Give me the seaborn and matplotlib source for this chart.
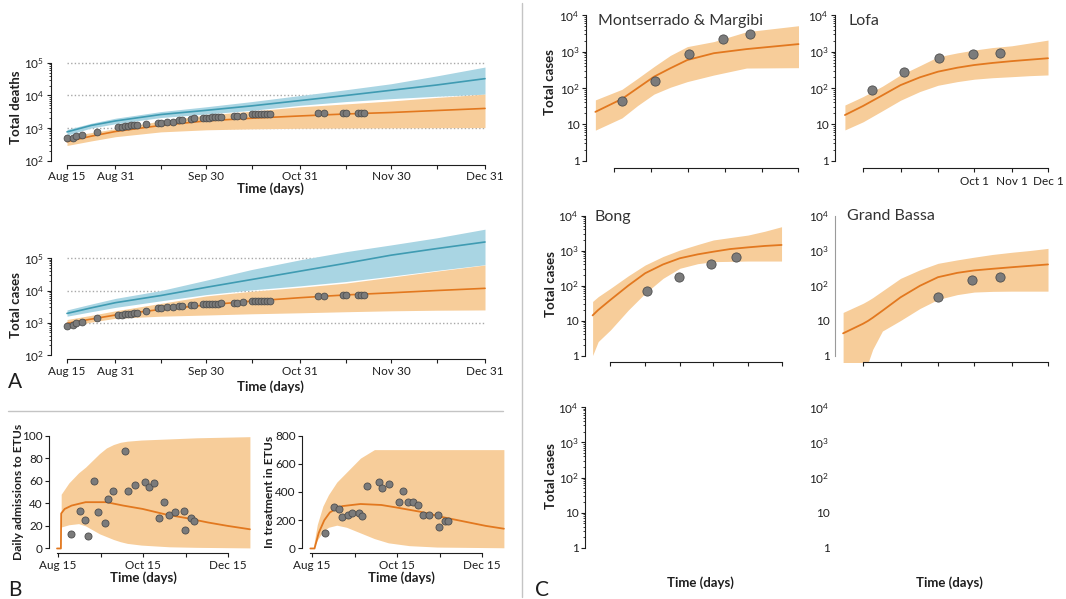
import numpy as np
import pandas as pd
import matplotlib
matplotlib.use("Agg")
import matplotlib.pyplot as plt
import matplotlib.dates as mdates
from matplotlib.lines import Line2D
import seaborn as sns

# ---------------------------------------------------------------- data
# Panel A : days after 15 Aug 2014
a_days = [0, 8, 16, 31, 46, 61, 77, 92, 107, 122, 138]
deaths_or_mid = [380, 560, 780, 1200, 1660, 2000, 2350, 2700, 3000, 3450, 4000]
deaths_or_hi = [560, 720, 950, 1650, 2500, 3300, 4500, 5500, 6800, 8700, 11000]
deaths_or_lo = [290, 400, 540, 760, 880, 940, 980, 1000, 1010, 1020, 1030]
deaths_bl_mid = [760, 1200, 1650, 2600, 3500, 4800, 7000, 10000, 14500, 21000, 33000]
deaths_bl_hi = [900, 1400, 2000, 3200, 4500, 6500, 10000, 15000, 23000, 40000, 75000]
deaths_bl_lo = [600, 1000, 1350, 2100, 2700, 3500, 5000, 6500, 8000, 9500, 11000]

cases_or_mid = [960, 1300, 1740, 2600, 3550, 4700, 6000, 7300, 8500, 10000, 11700]
cases_or_hi = [1260, 1700, 2350, 4000, 6800, 9500, 12600, 17000, 26000, 40000, 62000]
cases_or_lo = [760, 1050, 1380, 1600, 1740, 1900, 2040, 2200, 2350, 2450, 2500]
cases_bl_mid = [1950, 2900, 4200, 7000, 12600, 22000, 40000, 70000, 125000, 200000, 320000]
cases_bl_hi = [2500, 3800, 5700, 10000, 21000, 45000, 90000, 160000, 260000, 430000, 800000]
cases_bl_lo = [1600, 2200, 3000, 4800, 7500, 10500, 14000, 19000, 28000, 42000, 63000]

a_dot_days = [0, 2, 3, 5, 10, 17, 18, 19, 20, 21, 22, 23, 26, 30, 31, 33, 35, 37, 38,
              41, 42, 45, 46, 47, 48, 49, 50, 51, 55, 56, 58, 61, 62, 63, 64, 65, 66, 67,
              83, 85, 91, 92, 96, 97, 98]
deaths_dots = [480, 510, 580, 620, 770, 1050, 1100, 1130, 1160, 1200, 1230, 1260, 1300,
               1450, 1470, 1530, 1560, 1720, 1760, 1950, 2000, 2050, 2080, 2100, 2120,
               2140, 2160, 2180, 2350, 2380, 2420, 2650, 2680, 2700, 2710, 2720, 2730,
               2740, 2800, 2820, 2920, 2940, 2960, 2970, 2990]
cases_dots = [810, 850, 950, 1080, 1430, 1740, 1780, 1830, 1880, 1930, 1990, 2040, 2370,
              2800, 2850, 3000, 3100, 3250, 3300, 3500, 3550, 3800, 3850, 3880, 3900,
              3920, 3950, 3980, 4200, 4250, 4300, 4600, 4650, 4700, 4720, 4750, 4780,
              4800, 6700, 6800, 7200, 7250, 7300, 7350, 7400]

# Panel B : days after 15 Aug 2014
adm_days = [-0.5, 2.3, 2.5, 5, 10, 20, 35, 47, 61, 78, 92, 108, 122, 138]
adm_mid = [0, 0, 31, 35, 38, 41, 41, 38, 35, 30, 27, 23, 20, 17]
adm_band_days = [2.5, 8, 15, 20, 25, 30, 35, 40, 45, 50, 60, 80, 100, 138]
adm_hi = [48, 58, 67, 72, 78, 84, 89, 92, 94, 95, 96, 97, 98, 99]
adm_lo = [19, 21, 22, 20, 16.5, 13, 10.5, 8, 6, 4.5, 3, 1.5, 1, 0.5]

trt_days = [-1, 2, 5, 9, 13, 18, 22, 35, 50, 61, 78, 95, 110, 125, 138]
trt_mid = [0, 0, 110, 200, 255, 285, 300, 315, 308, 290, 260, 220, 190, 160, 140]
trt_band_days = [1, 4, 8, 12, 18, 25, 35, 45, 55, 70, 90, 138]
trt_hi = [0, 170, 300, 380, 470, 540, 640, 700, 700, 700, 700, 700]
trt_lo = [0, 60, 120, 150, 165, 150, 110, 70, 40, 20, 10, 5]

b_dot_days = [9.6, 16, 19.4, 22, 26, 29, 34, 36, 40, 48, 50.5, 55.5, 62.4, 65.5, 69,
              73, 76, 80, 84.5, 91, 91.6, 96, 97.6]
adm_dots = [13, 33, 25, 11, 60, 32, 23, 44, 51, 86, 51, 56, 59, 54, 58, 27, 41, 30, 32,
            33, 16, 27, 24]
trt_dots = [110, 292, 281, 220, 234, 253, 253, 227, 442, 472, 426, 456, 332, 407, 332,
            332, 309, 236, 236, 236, 154, 192, 196]

# Panel C : days after 1 Jul 2014
mont_days = [-15, 7, 20, 33.5, 47, 61, 83, 110, 153]
mont_mid = [22, 50, 100, 205, 350, 590, 910, 1180, 1620]
mont_hi = [47, 92, 185, 390, 790, 1380, 1900, 3550, 5200]
mont_lo = [6.9, 15, 33, 68, 105, 150, 228, 355, 363]
mont_dot_days = [7.4, 34, 62.3, 90.4, 113]
mont_dots = [45, 152, 850, 2290, 3080]

lofa_days = [-15, 0, 16, 31, 47, 62, 78, 92, 107, 123, 138, 153]
lofa_mid = [18, 32, 63, 120, 197, 282, 363, 430, 490, 550, 603, 660]
lofa_hi = [34, 58, 112, 229, 412, 724, 927, 1110, 1300, 1455, 1740, 2090]
lofa_lo = [7.0, 11.7, 23.6, 46, 80, 119, 150, 175, 192, 205, 219, 229]
lofa_dot_days = [7, 34, 62.5, 91, 113.5]
lofa_dots = [87, 270, 660, 850, 910]

bong_days = [-16, -11, 0, 16, 31, 47, 62, 78, 92, 107, 123, 138, 153]
bong_mid = [14, 20, 39, 100, 224, 400, 600, 776, 925, 1100, 1230, 1350, 1440]
bong_hi = [35, 48, 83, 190, 385, 675, 1030, 1480, 2000, 2340, 2760, 3550, 4780]
bong_lo = [1.0, 2.5, 5.4, 20, 60, 160, 310, 420, 480, 490, 500, 500, 500]
bong_dot_days = [33, 61, 90, 112.6]
bong_dots = [71, 170, 410, 645]

gb_days = [-16.5, 0, 4, 8, 16, 31, 47, 62, 78, 92, 107, 123, 138, 153]
gb_mid = [4.3, 8.1, 9.7, 12, 19, 46, 98, 173, 230, 270, 300, 333, 365, 400]
gb_hi = [17, 31, 37, 45, 70, 160, 280, 430, 540, 645, 770, 890, 1000, 1150]
gb_lo = [0.2, 0.3, 0.6, 1.5, 5, 10, 22, 40, 55, 65, 68, 69, 69, 69]
gb_dot_days = [62, 90.5, 113]
gb_dots = [46, 146, 180]

a_major_ticks = ["2014-08-15", "2014-08-31", "2014-09-30", "2014-10-31", "2014-11-30", "2014-12-31"]
a_major_labels = ["Aug 15", "Aug 31", "Sep 30", "Oct 31", "Nov 30", "Dec 31"]
a_minor_ticks = ["2014-09-15", "2014-10-15", "2014-11-15", "2014-12-15"]
b_major_ticks = ["2014-08-15", "2014-10-15", "2014-12-15"]
b_major_labels = ["Aug 15", "Oct 15", "Dec 15"]
b_minor_ticks = ["2014-09-15", "2014-11-15"]
c_ticks = ["2014-07-01", "2014-08-01", "2014-09-01", "2014-10-01", "2014-11-01", "2014-12-01"]
c_tick_labels = ["", "", "", "Oct 1", "Nov 1", "Dec 1"]
c_ylabels = ["1", "10", "$10^2$", "$10^3$", "$10^4$"]
a_ylabels = ["$10^2$", "$10^3$", "$10^4$", "$10^5$"]

# ---------------------------------------------------------------- style
sns.set_theme(style="ticks")
plt.rcParams["font.family"] = ["Lato", "DejaVu Sans"]
plt.rcParams["mathtext.fontset"] = "custom"
plt.rcParams["mathtext.rm"] = "Lato"
plt.rcParams["mathtext.it"] = "Lato:italic"
plt.rcParams["mathtext.bf"] = "Lato:bold"
plt.rcParams["axes.linewidth"] = 0.8

OR_LINE = "#E2781F"
OR_FILL = "#F7CD9A"
BL_LINE = "#3F9BB2"
BL_FILL = "#A9D5E3"
DOT_FC = "#7B7B7B"
DOT_EC = "#4E4E4E"
INK = "#1E1E1E"
TICK_FS = 8.5

W, H = 1066, 599
fig = plt.figure(figsize=(W / 100, H / 100), dpi=100)
fig.patch.set_facecolor("white")

A0 = pd.Timestamp("2014-08-15")
C0 = pd.Timestamp("2014-07-01")


def T(start, days):
    return start + pd.to_timedelta(np.asarray(days, dtype=float), unit="D")


def dnum(strs):
    vals = pd.to_datetime(np.atleast_1d(strs)).to_pydatetime()
    return np.atleast_1d(mdates.date2num(vals))


def tnum(start, day):
    return mdates.date2num((start + pd.Timedelta(days=float(day))).to_pydatetime())


def add_ax(x0, y0, x1, y1):
    ax = fig.add_axes([x0 / W, 1 - y1 / H, (x1 - x0) / W, (y1 - y0) / H])
    ax.set_facecolor("none")
    for s in ["top", "right"]:
        ax.spines[s].set_visible(False)
    for s in ["left", "bottom"]:
        ax.spines[s].set_color(INK)
        ax.spines[s].set_linewidth(0.8)
    return ax


def base_ticks(ax):
    ax.tick_params(which="major", length=3, width=0.8, color=INK, labelsize=TICK_FS,
                   labelcolor=INK, pad=2, direction="out")
    ax.tick_params(which="minor", length=1.8, width=0.6, color=INK, direction="out")
    ax.tick_params(axis="x", which="minor", length=3, width=0.8)


def log_y(ax, e0, e1, labels, minor=True):
    ax.set_yscale("log")
    majors = [10.0 ** e for e in range(e0, e1 + 1)]
    ax.set_yticks(majors, labels=labels)
    if minor:
        ax.set_yticks([k * 10.0 ** e for e in range(e0, e1) for k in range(2, 10)], minor=True)
    else:
        ax.set_yticks([], minor=True)
    ax.spines["left"].set_bounds(majors[0], majors[-1])


def dots(ax, t, v, s):
    sns.scatterplot(x=t, y=v, ax=ax, s=s, color=DOT_FC, edgecolor=DOT_EC,
                    linewidth=0.6, zorder=4, legend=False)


# ---------------------------------------------------------------- panel A
def panel_a(box, ylims, ylab, orm, orl, orh, blm, bll, blh, dv):
    ax = add_ax(*box)
    t = T(A0, a_days)
    ax.fill_between(t, bll, blh, color=BL_FILL, lw=0, zorder=1)
    ax.fill_between(t, orl, orh, color=OR_FILL, lw=0, zorder=1.1)
    sns.lineplot(x=t, y=blm, ax=ax, color=BL_LINE, lw=1.2, zorder=2)
    sns.lineplot(x=t, y=orm, ax=ax, color=OR_LINE, lw=1.2, zorder=2)
    dots(ax, T(A0, a_dot_days), dv, 24)
    ax.hlines([1e3, 1e4, 1e5], dnum("2014-08-15")[0], dnum("2014-12-31")[0],
              colors="#A8A8A8", linestyles=(0, (1, 1.6)), lw=1.0, zorder=0.5)
    log_y(ax, 2, 5, a_ylabels)
    ax.set_ylim(10 ** ylims[0], 10 ** ylims[1])
    ax.set_xlim(tnum(A0, -5.45), tnum(A0, 139.65))
    ax.set_xticks(dnum(a_major_ticks), labels=a_major_labels)
    ax.set_xticks(dnum(a_minor_ticks), minor=True)
    ax.spines["bottom"].set_bounds(dnum("2014-08-15")[0], dnum("2014-12-31")[0])
    base_ticks(ax)
    ax.tick_params(axis="y", which="major", pad=1.8)
    ax.set_xlabel("Time (days)", fontsize=9.5, fontweight="bold", color=INK)
    ax.set_ylabel(ylab, fontsize=9.5, fontweight="bold", color=INK)
    return ax


ax1 = panel_a((50.5, 55, 490, 164.5), (1.877, 5.246), "Total deaths",
              deaths_or_mid, deaths_or_lo, deaths_or_hi,
              deaths_bl_mid, deaths_bl_lo, deaths_bl_hi, deaths_dots)
ax1.xaxis.set_label_coords(0.4994, -0.16)
ax1.yaxis.set_label_coords(-0.064, 0.52)

ax2 = panel_a((50.5, 225, 490, 359), (1.876, 6.033), "Total cases",
              cases_or_mid, cases_or_lo, cases_or_hi,
              cases_bl_mid, cases_bl_lo, cases_bl_hi, cases_dots)
ax2.xaxis.set_label_coords(0.4994, -0.162)
ax2.yaxis.set_label_coords(-0.064, 0.403)


# ---------------------------------------------------------------- panel B
def panel_b(box, xl, yl, days, mid, bdays, lo, hi, dv, yticks, ytop, ylab):
    ax = add_ax(*box)
    ax.fill_between(T(A0, bdays), lo, hi, color=OR_FILL, lw=0, zorder=1)
    sns.lineplot(x=T(A0, days), y=mid, ax=ax, color=OR_LINE, lw=1.3, zorder=2)
    dots(ax, T(A0, b_dot_days), dv, 26)
    ax.set_xlim(tnum(A0, xl[0]), tnum(A0, xl[1]))
    ax.set_ylim(*yl)
    ax.set_yticks(yticks)
    ax.spines["left"].set_bounds(0, ytop)
    ax.set_xticks(dnum(b_major_ticks), labels=b_major_labels)
    ax.set_xticks(dnum(b_minor_ticks), minor=True)
    ax.spines["bottom"].set_bounds(tnum(A0, days[0]), dnum("2014-12-15")[0])
    base_ticks(ax)
    ax.tick_params(axis="y", which="major", pad=1.5)
    ax.set_xlabel("Time (days)", fontsize=9.5, fontweight="bold", color=INK)
    ax.set_ylabel(ylab, fontsize=8.7, fontweight="bold", color=INK)
    return ax


ax3 = panel_b((49, 430, 252, 553), (-6.25, 139.5), (-4, 104.9), adm_days, adm_mid,
              adm_band_days, adm_lo, adm_hi, adm_dots, [0, 20, 40, 60, 80, 100], 100,
              "Daily admissions to ETUs")
ax3.xaxis.set_label_coords(0.465, -0.152)
ax3.yaxis.set_label_coords(-0.125, 0.5)

ax4 = panel_b((302, 430, 505, 553), (-7, 138.8), (-32, 839), trt_days, trt_mid,
              trt_band_days, trt_lo, trt_hi, trt_dots, [0, 200, 400, 600, 800], 800,
              "In treatment in ETUs")
ax4.xaxis.set_label_coords(0.491, -0.152)
ax4.yaxis.set_label_coords(-0.133, 0.5)


# ---------------------------------------------------------------- panel C
def panel_c(box, xl, yl, days=None, mid=None, lo=None, hi=None, ddays=None, dv=None,
            show_xaxis=True, xlabels=None, yspine="ticks"):
    ax = add_ax(*box)
    if days is not None:
        t = T(C0, days)
        ax.fill_between(t, lo, hi, color=OR_FILL, lw=0, zorder=1)
        sns.lineplot(x=t, y=mid, ax=ax, color=OR_LINE, lw=1.3, zorder=2)
        dots(ax, T(C0, ddays), dv, 44)
    log_y(ax, 0, 4, c_ylabels, minor=(yspine == "ticks"))
    ax.set_ylim(10 ** yl[0], 10 ** yl[1])
    ax.set_xlim(tnum(C0, xl[0]), tnum(C0, xl[1]))
    base_ticks(ax)
    ax.tick_params(axis="y", which="major", pad=1.5)
    if show_xaxis:
        ax.set_xticks(dnum(c_ticks), labels=xlabels if xlabels else [""] * 6)
        ax.set_xticks([], minor=True)
        ax.spines["bottom"].set_bounds(dnum(c_ticks[0])[0], dnum(c_ticks[-1])[0])
        ax.tick_params(axis="x", which="major", length=3, pad=2.5)
    else:
        ax.set_xticks([])
        ax.set_xticks([], minor=True)
        ax.spines["bottom"].set_visible(False)
    if yspine == "plain":
        ax.spines["left"].set_color("#9A9A9A")
        ax.spines["left"].set_linewidth(0.8)
        ax.tick_params(axis="y", which="major", length=0, pad=4)
    elif yspine == "none":
        ax.spines["left"].set_visible(False)
        ax.tick_params(axis="y", which="major", length=0, pad=4)
    ax.set_xlabel("")
    ax.set_ylabel("")
    return ax


row1 = (10, 168.3)
row2 = (205, 361.5)
row3 = (400, 553)
cm = panel_c((586, row1[0], 802, row1[1]), (-22.75, 155.9), (-0.212, 4.149),
             mont_days, mont_mid, mont_lo, mont_hi, mont_dot_days, mont_dots)
cl = panel_c((835, row1[0], 1052, row1[1]), (-23.2, 156.3), (-0.212, 4.149),
             lofa_days, lofa_mid, lofa_lo, lofa_hi, lofa_dot_days, lofa_dots,
             xlabels=c_tick_labels)
cb = panel_c((585, row2[0], 785, row2[1]), (-22.8, 156.1), (-0.171, 4.3),
             bong_days, bong_mid, bong_lo, bong_hi, bong_dot_days, bong_dots)
cg = panel_c((835, row2[0], 1052, row2[1]), (-23.2, 156.3), (-0.171, 4.3),
             gb_days, gb_mid, gb_lo, gb_hi, gb_dot_days, gb_dots, yspine="plain")
ce1 = panel_c((585, row3[0], 785, row3[1]), (-22.8, 156.1), (-0.142, 4.2),
              show_xaxis=False)
ce2 = panel_c((835, row3[0], 1052, row3[1]), (-23.2, 156.3), (-0.142, 4.2),
              show_xaxis=False, yspine="none")

for ax, yy in [(cm, 0.547), (cb, 0.495), (ce1, 0.505)]:
    ax.set_ylabel("Total cases", fontsize=9.5, fontweight="bold", color=INK)
    ax.yaxis.set_label_coords(-0.138, yy)
for ax, xx in [(ce1, 0.575), (ce2, 0.528)]:
    ax.set_xlabel("Time (days)", fontsize=9.5, fontweight="bold", color=INK)
    ax.xaxis.set_label_coords(xx, -0.155)

# region titles
for name, x, y in [("Montserrado & Margibi", 598.5, 21), ("Lofa", 848, 21),
                   ("Bong", 595, 217), ("Grand Bassa", 847, 216)]:
    fig.text(x / W, 1 - y / H, name, fontsize=11.5, color="#333333", ha="left", va="center")

# panel letters
for letter, x, y in [("A", 15, 382), ("B", 15, 590), ("C", 542, 590)]:
    fig.text(x / W, 1 - y / H, letter, fontsize=15, color=INK, ha="center", va="center")

# separators
fig.add_artist(Line2D([8 / W, 503 / W], [1 - 411 / H, 1 - 411 / H],
                      transform=fig.transFigure, color="#C4C4C4", lw=1.0))
fig.add_artist(Line2D([522 / W, 522 / W], [1 - 3 / H, 1 - 597 / H],
                      transform=fig.transFigure, color="#C4C4C4", lw=1.0))

fig.savefig("out.png", dpi=100, facecolor="white")
